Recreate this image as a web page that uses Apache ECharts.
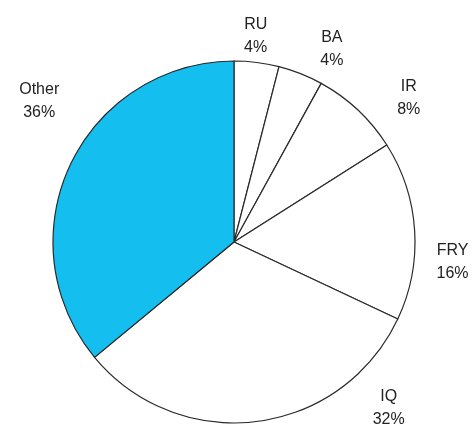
<!DOCTYPE html>
<html>
<head>
<meta charset="utf-8">
<script src="https://cdn.jsdelivr.net/npm/echarts@6/dist/echarts.min.js"></script>
<style>
html,body{margin:0;padding:0;background:#fff;}
#chart{width:473px;height:431px;}
</style>
</head>
<body>
<div id="chart"></div>
<script>
var categories = ['RU', 'BA', 'IR', 'FRY', 'IQ', 'Other'];
var shares = [4, 4, 8, 16, 32, 36];
var sliceColors = ['#ffffff', '#ffffff', '#ffffff', '#ffffff', '#ffffff', '#14bff0'];

// label nudges relative to the library's outside-label placement (style, not data)
var labelNudge = [[-6, -26], [-27, -61], [14, -60], [38, 34], [127, 1], [-26, -64]];

var chart = echarts.init(document.getElementById('chart'), null, {renderer: 'canvas'});
var data = categories.map(function (c, i) {
  return {name: c, value: shares[i], itemStyle: {color: sliceColors[i]}};
});
chart.setOption({
  animation: false,
  backgroundColor: '#ffffff',
  series: [{
    type: 'pie',
    center: [234, 242],
    radius: 181,
    startAngle: 90,
    clockwise: true,
    data: data,
    itemStyle: {borderColor: '#2a2a2a', borderWidth: 1.2},
    label: {
      show: true,
      position: 'outside',
      formatter: '{b}\n{c}%',
      fontFamily: 'Liberation Sans, Arial, sans-serif',
      fontSize: 16,
      lineHeight: 23,
      color: '#222222'
    },
    labelLine: {show: false, length: 0, length2: 0},
    labelLayout: function (p) {
      var n = labelNudge[p.dataIndex];
      return {align: 'center', verticalAlign: 'middle', dx: n[0], dy: n[1], hideOverlap: false, moveOverlap: false};
    },
    emphasis: {disabled: true}
  }]
});
</script>
</body>
</html>
